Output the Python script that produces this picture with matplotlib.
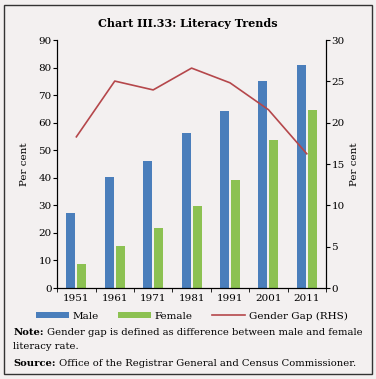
import matplotlib.pyplot as plt
import numpy as np
from matplotlib.patches import Rectangle

years = ["1951", "1961", "1971", "1981", "1991", "2001", "2011"]
male = [27.16, 40.40, 45.96, 56.38, 64.13, 75.26, 80.88]
female = [8.86, 15.35, 21.97, 29.76, 39.29, 53.67, 64.63]
gender_gap = [18.30, 25.05, 23.98, 26.62, 24.84, 21.59, 16.25]

bg = "#F3F0F0"
plt.rcParams["font.family"] = "DejaVu Serif"
plt.rcParams["font.size"] = 7.5

fig = plt.figure(figsize=(3.76, 3.79), dpi=100, facecolor=bg)
ax = fig.add_axes([0.152, 0.240, 0.715, 0.654])
ax.set_facecolor(bg)

x = np.arange(len(years))
w = 0.235
b1 = ax.bar(x - 0.143, male, w, color="#4A7EBB", label="Male")
b2 = ax.bar(x + 0.143, female, w, color="#8CC152", label="Female")
ax.set_xlim(-0.5, len(years) - 0.5)
ax.set_ylim(0, 90)
ax.set_yticks(np.arange(0, 91, 10))
ax.set_xticks(x)
ax.set_xticklabels(years)
ax.set_xticks(np.arange(-0.5, len(years), 1), minor=True)
ax.tick_params(axis="x", which="major", length=0, pad=4)
ax.tick_params(axis="x", which="minor", length=3, direction="out")
ax.tick_params(axis="y", length=3, pad=1)
ax.set_ylabel("Per cent", labelpad=7)
ax.spines["top"].set_visible(False)

ax2 = ax.twinx()
l1, = ax2.plot(x, gender_gap, color="#B5474B", lw=1.2, label="Gender Gap (RHS)")
ax2.set_ylim(0, 30)
ax2.set_yticks(np.arange(0, 31, 5))
ax2.tick_params(axis="y", length=3, pad=1)
ax2.set_ylabel("Per cent", labelpad=4)
ax2.spines["top"].set_visible(False)

fig.text(0.5, 0.938, "Chart III.33: Literacy Trends", ha="center", va="center",
         fontsize=8, fontweight="bold")

fig.legend(handles=[b1, b2, l1], loc="center", bbox_to_anchor=(0.51, 0.166), ncol=3,
           frameon=False, handlelength=3.2, handleheight=0.6, columnspacing=1.8,
           handletextpad=0.35, fontsize=7.5)

# note and source lines: bold label followed by regular text
fs = 7.2
t1 = fig.text(0.035, 0.116, "Note:", ha="left", va="baseline", fontsize=fs, fontweight="bold")
ax.annotate(" Gender gap is defined as difference between male and female",
            xy=(1, 0), xycoords=t1, ha="left", va="bottom", fontsize=fs,
            annotation_clip=False)
fig.text(0.035, 0.079, "literacy rate.", ha="left", va="baseline", fontsize=fs)
t2 = fig.text(0.035, 0.034, "Source:", ha="left", va="baseline", fontsize=fs, fontweight="bold")
ax.annotate(" Office of the Registrar General and Census Commissioner.",
            xy=(1, 0), xycoords=t2, ha="left", va="bottom", fontsize=fs,
            annotation_clip=False)

fig.patches.append(Rectangle((0.011, 0.013), 0.978, 0.974, transform=fig.transFigure,
                             fill=False, edgecolor="#333333", lw=1.0))

fig.savefig("out.png", dpi=100, facecolor=bg)
